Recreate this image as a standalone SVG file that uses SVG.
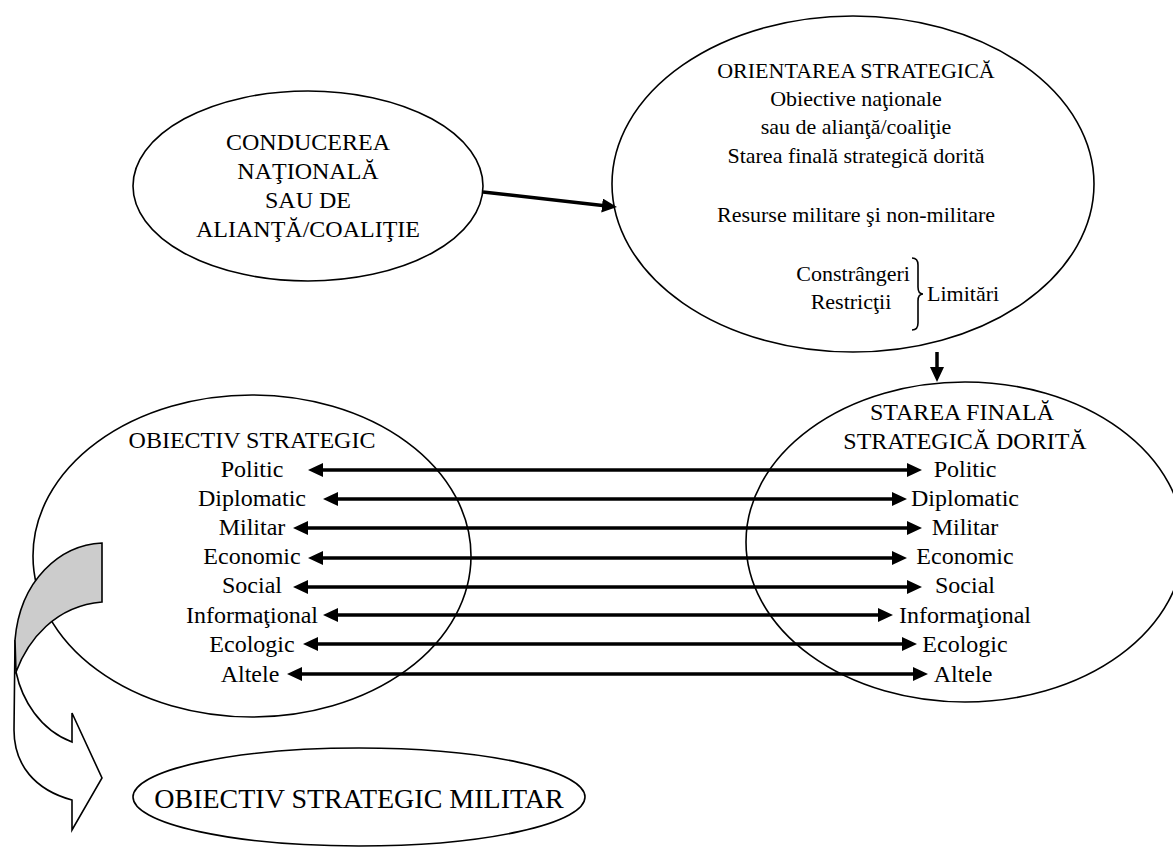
<svg xmlns="http://www.w3.org/2000/svg" width="1173" height="847" viewBox="0 0 1173 847">
<style>
.e{fill:none;stroke:#000;stroke-width:1.6}
.t{font-family:"Liberation Serif","Times New Roman",serif;font-size:24px;fill:#000;text-anchor:middle}
.s{font-size:22px}
.c{stroke:#000;stroke-width:3.5;fill:none}
</style>
<defs>
<marker id="ah" markerUnits="userSpaceOnUse" markerWidth="16" markerHeight="15" refX="5" refY="7" orient="auto-start-reverse" viewBox="0 0 16 15">
<path d="M0,0 L15,7 L0,14 Z" fill="#000"/>
</marker>
</defs>
<rect width="1173" height="847" fill="#fff"/>

<g id="conducerea">
<ellipse class="e" cx="308" cy="186" rx="175" ry="95"/>
<text class="t" x="308" y="150">CONDUCEREA</text>
<text class="t" x="308" y="179">NAŢIONALĂ</text>
<text class="t" x="308" y="208">SAU DE</text>
<text class="t" x="308" y="237">ALIANŢĂ/COALIŢIE</text>
</g>

<g id="orientarea">
<ellipse class="e" cx="853" cy="184" rx="241" ry="168"/>
<text class="t s" x="856" y="78">ORIENTAREA STRATEGICĂ</text>
<text class="t s" x="856" y="106">Obiective naţionale</text>
<text class="t s" x="856" y="134">sau de alianţă/coaliţie</text>
<text class="t s" x="856" y="163">Starea finală strategică dorită</text>
<text class="t s" x="856" y="222">Resurse militare şi non-militare</text>
<text class="t s" x="910" y="281" style="text-anchor:end">Constrângeri</text>
<text class="t s" x="851" y="309">Restricţii</text>
<path d="M912,258 Q918,258 918,265 L918,287 Q918,294 923,294 Q918,294 918,301 L918,323 Q918,330 912,330" fill="none" stroke="#000" stroke-width="1.6"/>
<text class="t s" x="927" y="301" style="text-anchor:start">Limitări</text>
</g>

<g id="obiectiv-strategic">
<ellipse class="e" cx="252" cy="556" rx="219" ry="161"/>
<text class="t" x="252" y="448">OBIECTIV STRATEGIC</text>
<text class="t" x="252" y="477">Politic</text>
<text class="t" x="252" y="506">Diplomatic</text>
<text class="t" x="252" y="535">Militar</text>
<text class="t" x="252" y="564">Economic</text>
<text class="t" x="252" y="593">Social</text>
<text class="t" x="252" y="623">Informaţional</text>
<text class="t" x="252" y="652">Ecologic</text>
<text class="t" x="250" y="682">Altele</text>
</g>

<g id="starea-finala">
<ellipse class="e" cx="965" cy="542" rx="219" ry="160"/>
<text class="t" x="962" y="420">STAREA FINALĂ</text>
<text class="t" x="965" y="449">STRATEGICĂ DORITĂ</text>
<text class="t" x="965" y="477">Politic</text>
<text class="t" x="965" y="506">Diplomatic</text>
<text class="t" x="965" y="535">Militar</text>
<text class="t" x="965" y="564">Economic</text>
<text class="t" x="965" y="593">Social</text>
<text class="t" x="965" y="623">Informaţional</text>
<text class="t" x="965" y="652">Ecologic</text>
<text class="t" x="963" y="682">Altele</text>
</g>

<g id="curved-arrow">
<path d="M16,672 C22,700 40,730 72,742 L72,713 L102,778 L72,830 L72,800 C35,790 14,765 14,730 L15,640" fill="#fff" stroke="#000" stroke-width="1.6" stroke-linejoin="miter"/>
<path d="M102,543 C60,545 20,580 15,640 L16,672 C28,640 55,606 102,602 Z" fill="#cccccc" stroke="#000" stroke-width="1.6"/>
</g>

<g id="obiectiv-militar">
<ellipse class="e" cx="359" cy="797" rx="226" ry="49"/>
<text class="t" x="359" y="808" style="font-size:28px">OBIECTIV STRATEGIC MILITAR</text>
</g>

<g id="connectors">
<line class="c" x1="483" y1="192" x2="607" y2="206" marker-end="url(#ah)"/>
<line class="c" x1="937" y1="352" x2="937" y2="372" marker-end="url(#ah)"/>
<line class="c" x1="318" y1="470" x2="912" y2="470" marker-start="url(#ah)" marker-end="url(#ah)"/>
<line class="c" x1="333" y1="499" x2="897" y2="499" marker-start="url(#ah)" marker-end="url(#ah)"/>
<line class="c" x1="303" y1="528" x2="912" y2="528" marker-start="url(#ah)" marker-end="url(#ah)"/>
<line class="c" x1="318" y1="558" x2="897" y2="558" marker-start="url(#ah)" marker-end="url(#ah)"/>
<line class="c" x1="303" y1="587" x2="912" y2="587" marker-start="url(#ah)" marker-end="url(#ah)"/>
<line class="c" x1="333" y1="615" x2="883" y2="615" marker-start="url(#ah)" marker-end="url(#ah)"/>
<line class="c" x1="313" y1="644" x2="907" y2="644" marker-start="url(#ah)" marker-end="url(#ah)"/>
<line class="c" x1="297" y1="674" x2="918" y2="674" marker-start="url(#ah)" marker-end="url(#ah)"/>
</g>
</svg>
